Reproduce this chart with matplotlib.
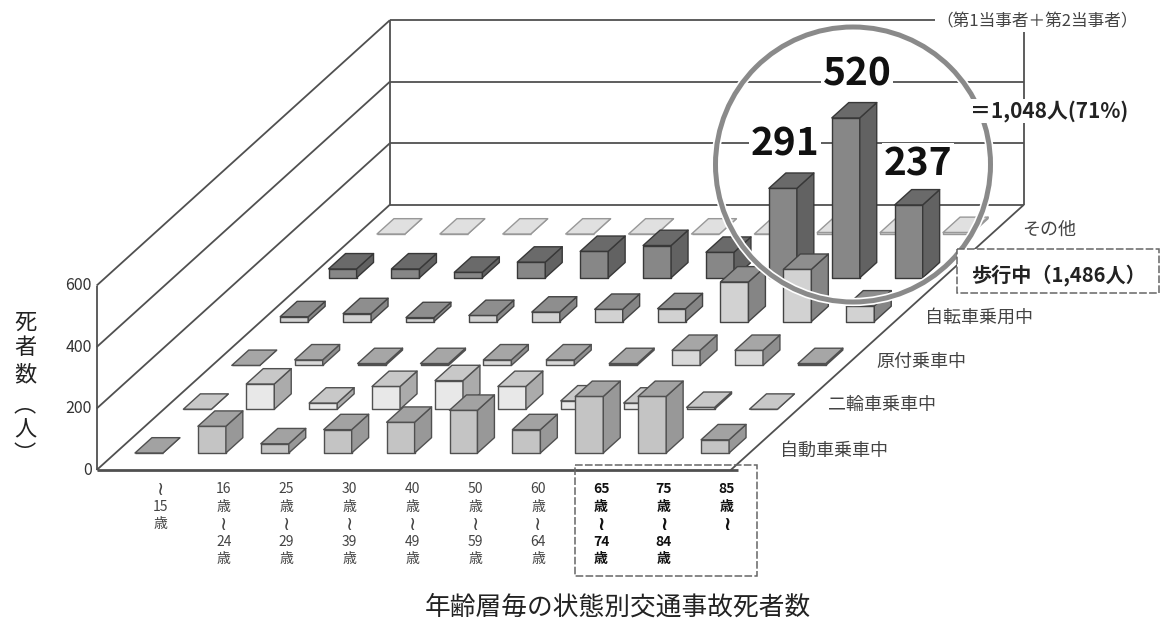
import matplotlib
matplotlib.use("Agg")
import matplotlib.pyplot as plt
from matplotlib.patches import Polygon, Circle, Rectangle
from matplotlib.transforms import Affine2D

plt.rcParams['font.family'] = ['Noto Sans CJK JP', 'DejaVu Sans']

# ---- data ----
age_labels = [
    ["≀", "15", "歳"],
    ["16", "歳", "≀", "24", "歳"],
    ["25", "歳", "≀", "29", "歳"],
    ["30", "歳", "≀", "39", "歳"],
    ["40", "歳", "≀", "49", "歳"],
    ["50", "歳", "≀", "59", "歳"],
    ["60", "歳", "≀", "64", "歳"],
    ["65", "歳", "≀", "74", "歳"],
    ["75", "歳", "≀", "84", "歳"],
    ["85", "歳", "≀"],
]
car = [0, 87, 30, 76, 100, 139, 76, 184, 184, 43]
motorcycle = [0, 82, 20, 74, 93, 74, 27, 20, 6, 0]
moped = [0, 18, 6, 6, 18, 18, 6, 49, 49, 6]
bicycle = [16, 26, 13, 20, 31, 40, 42, 129, 170, 51]
walking = [29, 29, 18, 51, 86, 105, 83, 291, 520, 237]
other = [0, 0, 0, 0, 0, 0, 0, 5, 5, 5]
z_ticks = [0, 200, 400, 600]

# ---- style: front, top, side, edge (back row to front row order below) ----
rows = [
    (5, other, '#dcdcdc', '#e0e0e0', '#b0b0b0', '#989898'),
    (4, walking, '#878787', '#6a6a6a', '#626262', '#383838'),
    (3, bicycle, '#d2d2d2', '#8e8e8e', '#858585', '#444444'),
    (2, moped, '#d8d8d8', '#a6a6a6', '#8e8e8e', '#505050'),
    (1, motorcycle, '#e8e8e8', '#c8c8c8', '#ababab', '#505050'),
    (0, car, '#c4c4c4', '#a2a2a2', '#989898', '#505050'),
]

W, H = 1161, 619
PX_I, PX_JX, PX_JY, PX_Z = 62.9, 48.4, 43.8, 0.3075
X0, Y0 = 135, 453
BAR_W, BAR_D = 0.445, 0.35
I0, I1, J0, J1 = -0.31, 9.77, -0.39, 5.67

fig = plt.figure(figsize=(W / 100, H / 100), dpi=100, facecolor='white')
ax = fig.add_axes([0, 0, 1, 1])
ax.set_xlim((0 - X0) / PX_I, (W - X0) / PX_I)
ax.set_ylim((Y0 - H) / PX_Z, Y0 / PX_Z)
ax.axis('off')


def proj(i, j, z):
    """Oblique projection of (age index, row index, value) to the axes' data space."""
    return (i + j * PX_JX / PX_I, z + j * PX_JY / PX_Z)


px = Affine2D().scale(1, -1).translate(0, H)  # layout positions in image pixels
LINE = '#505050'


def line(p, q, lw=1.3, color=LINE, z=1):
    ax.plot([p[0], q[0]], [p[1], q[1]], color=color, lw=lw, zorder=z, solid_capstyle='butt')


# walls and floor
for zt in z_ticks:
    line(proj(I0, J0, zt), proj(I0, J1, zt))
    line(proj(I0, J1, zt), proj(I1, J1, zt))
line(proj(I0, J0, 0), proj(I0, J0, z_ticks[-1]))
line(proj(I0, J1, 0), proj(I0, J1, z_ticks[-1]))
line(proj(I1, J1, 0), proj(I1, J1, z_ticks[-1]))
line(proj(I0, J0, 0), proj(I1 + 0.12, J0, 0), lw=2)
line(proj(I1, J0, 0), proj(I1, J1, 0))

# bars
order = 2
for j, vals, front, top, side, edge in rows:
    for i, v in enumerate(vals):
        a, b = i, i + BAR_W
        c, d = j, j + BAR_D
        faces = [
            ([proj(a, c, 0), proj(b, c, 0), proj(b, c, v), proj(a, c, v)], front),
            ([proj(b, c, 0), proj(b, d, 0), proj(b, d, v), proj(b, c, v)], side),
            ([proj(a, c, v), proj(b, c, v), proj(b, d, v), proj(a, d, v)], top),
        ]
        for pts, col in faces:
            ax.add_patch(Polygon(pts, closed=True, facecolor=col, edgecolor=edge,
                                 lw=1.0, joinstyle='round', zorder=order))
        order += 0.01

# value axis labels
for zt in z_ticks:
    ax.annotate(str(zt), xy=proj(I0, J0, zt), xytext=(-5, 0), textcoords='offset pixels',
                ha='right', va='center', fontsize=11.5, color='#333333', zorder=8)

# age labels
TXT = '#444444'
for i, parts in enumerate(age_labels):
    x_pos = proj(i + 0.71, J0, 0)[0]
    bold = i >= 7
    for k, s in enumerate(parts):
        y_off = 489 + 17.5 * k
        ax.annotate(s, xy=(x_pos, proj(0, J0, 0)[1]), xytext=(0, 470 - y_off),
                    textcoords='offset pixels', ha='center', va='center',
                    fontsize=14 if s == "≀" else 10,
                    fontweight='bold' if bold else 'normal',
                    color='#111111' if bold else TXT, zorder=8)

# y-axis title
ytitle = ["死", "者", "数", "︵", "人", "︶"]
for ch, yy in zip(ytitle, [322, 348, 375, 405, 430, 454]):
    ax.text(25, yy, ch, transform=px, ha='center', va='center', fontsize=16, color='#222222')

# row names
for s, xx, yy in [("自動車乗車中", 834, 451), ("二輪車乗車中", 882, 405), ("原付乗車中", 921, 362),
                  ("自転車乗用中", 979, 318), ("その他", 1049, 230)]:
    ax.text(xx, yy, s, transform=px, ha='center', va='center', fontsize=13, color='#444444', zorder=8)

# dashed boxes
ax.add_patch(Rectangle((957, 249), 202, 44, transform=px, facecolor='white', edgecolor='#666666',
                       lw=1.1, ls=(0, (5, 1.5)), zorder=7))
ax.add_patch(Rectangle((575, 465), 182, 111, transform=px, facecolor='none', edgecolor='#666666',
                       lw=1.1, ls=(0, (5, 1.5)), zorder=7))
ax.text(1058, 275, "歩行中（1,486人）", transform=px, ha='center', va='center', fontsize=14.5,
        fontweight='bold', color='#222222', zorder=8)

# magnifier ring
ax.add_patch(Circle((853, 164.5), 137.5, transform=px, facecolor='none', edgecolor='white', lw=6, zorder=5))
ax.add_patch(Circle((853, 164.5), 137.5, transform=px, facecolor='none', edgecolor='#8a8a8a', lw=3.6, zorder=5.1))

# callouts
WB = dict(facecolor='white', edgecolor='none', pad=1)
ax.text(1037, 22, "（第1当事者＋第2当事者）", transform=px, ha='center', va='center', fontsize=12,
        color='#444444', bbox=WB, zorder=8)
ax.text(1049, 111, "＝1,048人(71%)", transform=px, ha='center', va='center', fontsize=15,
        fontweight='bold', color='#222222', bbox=WB, zorder=8)
for s, xx, yy in [("520", 857, 74), ("291", 785, 144), ("237", 918, 164)]:
    ax.text(xx, yy, s, transform=px, ha='center', va='center', fontsize=28, fontweight='bold',
            color='#111111', bbox=WB, zorder=6)

# chart title
ax.text(618, 608, "年齢層毎の状態別交通事故死者数", transform=px, ha='center', va='center', fontsize=18.5,
        color='#222222', zorder=8)

fig.savefig('out.png', dpi=100, facecolor='white')
